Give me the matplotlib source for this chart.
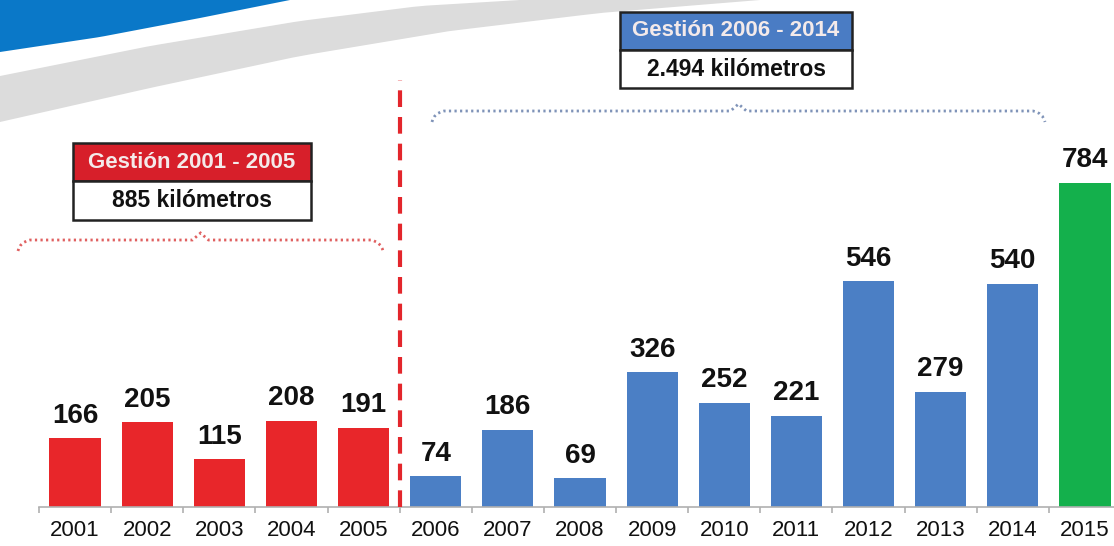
import numpy as np
import matplotlib
matplotlib.use('Agg')
import matplotlib.pyplot as plt
from matplotlib.patches import Polygon, Rectangle, PathPatch
from matplotlib.path import Path

plt.rcParams['font.family'] = ['Liberation Sans', 'DejaVu Sans']

# data
years = ['2001', '2002', '2003', '2004', '2005', '2006', '2007', '2008',
         '2009', '2010', '2011', '2012', '2013', '2014', '2015']
km = [166, 205, 115, 208, 191, 74, 186, 69, 326, 252, 221, 546, 279, 540, 784]
periods = ['Gestión 2001 - 2005', 'Gestión 2006 - 2014']
period_totals = ['885 kilómetros', '2.494 kilómetros']

RED = '#e8262a'
BLUE = '#4b7fc5'
GREEN = '#14b04c'
colors = [RED] * 5 + [BLUE] * 9 + [GREEN]

W, H = 1114, 546
fig = plt.figure(figsize=(W / 100, H / 100), dpi=100)
fig.patch.set_facecolor('white')


def fx(px):
    return px / W


def fy(py):
    return 1 - py / H


# decorative swooshes top-left
def smooth(pts, n=40):
    pts = np.array(pts, dtype=float)
    xs = np.linspace(pts[0, 0], pts[-1, 0], n)
    ys = np.interp(xs, pts[:, 0], pts[:, 1])
    return list(zip(xs, ys))

gray_top = smooth([(0, 76), (150, 46), (300, 21), (420, 6), (520, 0)])
gray_bot = smooth([(0, 122), (150, 88), (300, 56), (450, 31), (600, 13), (760, 0)])
gray = gray_top + [(760, 0)] + gray_bot[::-1]
fig.patches.append(Polygon([(fx(x), fy(y)) for x, y in gray], closed=True,
                           transform=fig.transFigure, facecolor='#dcdcdc',
                           edgecolor='none', zorder=0))
blue_bot = smooth([(0, 52), (100, 37), (200, 18), (290, 0)])
blue = [(0, 0)] + blue_bot + [(290, 0)]
fig.patches.append(Polygon([(fx(x), fy(y)) for x, y in blue], closed=True,
                           transform=fig.transFigure, facecolor='#0a78c8',
                           edgecolor='none', zorder=0))

ax = fig.add_axes([fx(39), 1 - 507 / H, (1121 - 39) / W, 507 / H])
ax.set_facecolor('none')
x = np.arange(len(years))
bars = ax.bar(x, km, width=0.71, color=colors, zorder=2)
ax.set_xlim(-0.5, 14.5)
ax.set_ylim(0, 1227)

for xi, v in zip(x, km):
    ax.annotate(str(v), (xi, v), xytext=(0, 7), textcoords='offset points',
                ha='center', va='bottom', fontsize=20, fontweight='bold',
                color='#111111')

ax.axvline(4.5, ymin=0, ymax=(507 - 80) / 507, color='#e3262c', lw=3,
           dashes=(4, 2.4), zorder=3)

for s in ['top', 'right', 'left']:
    ax.spines[s].set_visible(False)
ax.spines['bottom'].set_color('#b0b0b0')
ax.spines['bottom'].set_linewidth(1.2)
ax.set_yticks([])
ax.set_xticks(x)
ax.set_xticklabels(years, fontsize=16, color='#111111')
ax.set_xticks(np.arange(-0.5, 15, 1), minor=True)
ax.tick_params(axis='x', which='major', length=0, pad=9)
ax.tick_params(axis='x', which='minor', length=4, color='#b0b0b0', width=1.2)


# summary boxes
def box(x0, x1, y0, ym, y1, head_col, title, total):
    fig.patches.append(Rectangle((fx(x0), fy(ym)), fx(x1 - x0), (ym - y0) / H,
                                 transform=fig.transFigure, facecolor=head_col,
                                 edgecolor='#222222', lw=1.8, zorder=5))
    fig.patches.append(Rectangle((fx(x0), fy(y1)), fx(x1 - x0), (y1 - ym) / H,
                                 transform=fig.transFigure, facecolor='white',
                                 edgecolor='#222222', lw=1.8, zorder=5))
    fig.text(fx((x0 + x1) / 2), fy((y0 + ym) / 2), title, ha='center',
             va='center', fontsize=16, fontweight='bold', color='#f4eaea',
             zorder=6)
    fig.text(fx((x0 + x1) / 2), fy((ym + y1) / 2), total, ha='center',
             va='center', fontsize=16.5, fontweight='bold', color='#111111',
             zorder=6)

box(73, 311, 143, 181, 220, '#d71f2a', periods[0], period_totals[0])
box(620, 852, 12, 50, 88, '#4a7cc4', periods[1], period_totals[1])


# dotted braces
def brace(x0, x1, y, col):
    xm = (x0 + x1) / 2
    verts = [(x0, y + 11), (x0 + 2, y + 2), (x0 + 12, y), (xm - 8, y),
             (xm, y - 7), (xm + 8, y), (x1 - 12, y), (x1 - 2, y + 2), (x1, y + 11)]
    codes = [Path.MOVETO, Path.CURVE3, Path.CURVE3, Path.LINETO,
             Path.LINETO, Path.LINETO, Path.LINETO, Path.CURVE3, Path.CURVE3]
    p = Path([(fx(a), fy(b)) for a, b in verts], codes)
    fig.patches.append(PathPatch(p, transform=fig.transFigure, facecolor='none',
                                 edgecolor=col, lw=2, linestyle=(0, (0.8, 1.2)),
                                 zorder=4))

brace(18, 383, 240, '#e06060')
brace(432, 1045, 111, '#7f93b8')

fig.savefig('out.png', dpi=100)
